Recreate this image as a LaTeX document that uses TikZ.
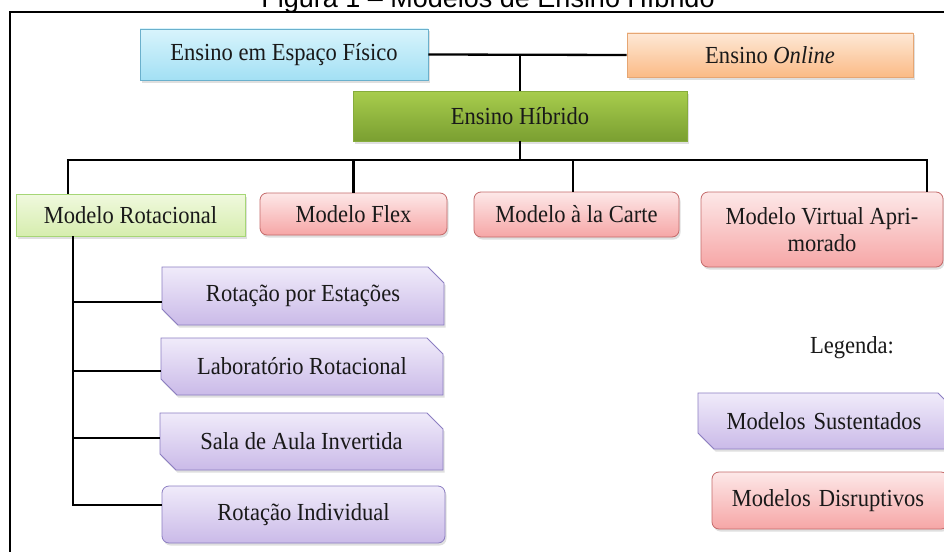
\documentclass[tikz,border=0pt]{standalone}
\usepackage{fontspec}
\setmainfont[FakeStretch=0.92]{Liberation Serif}
\newfontfamily\titlefont{Liberation Sans}
\usetikzlibrary{shapes.misc,shadows}
\definecolor{fisT}{HTML}{D8F4FC}
\definecolor{fisB}{HTML}{A3E0F4}
\definecolor{fisD}{HTML}{6AB0CC}
\definecolor{onlT}{HTML}{FEE8D6}
\definecolor{onlB}{HTML}{FBBB86}
\definecolor{onlD}{HTML}{E6A673}
\definecolor{hibT}{HTML}{A8CD4D}
\definecolor{hibB}{HTML}{7A9F31}
\definecolor{hibD}{HTML}{86AC3C}
\definecolor{rotT}{HTML}{F0F9DE}
\definecolor{rotB}{HTML}{D6EDAE}
\definecolor{rotD}{HTML}{A6D676}
\definecolor{pnkT}{HTML}{FDE8E8}
\definecolor{pnkB}{HTML}{F6A6A6}
\definecolor{pnkD}{HTML}{C46A6A}
\definecolor{purT}{HTML}{F0EBFA}
\definecolor{purB}{HTML}{CABAE8}
\definecolor{purD}{HTML}{8C7EC2}
\begin{document}
\begin{tikzpicture}[x=1pt,y=-1pt,
  box/.style={draw, line width=0.8pt, inner sep=0pt, align=center,
    font=\fontsize{24.5}{27}\selectfont, text=black!90,
    drop shadow={shadow xshift=1.5pt, shadow yshift=-2.5pt, opacity=0.25}},
  fisbox/.style={box, draw=fisD, top color=fisT, bottom color=fisB},
  onlbox/.style={box, draw=onlD, top color=onlT, bottom color=onlB},
  hibbox/.style={box, draw=hibD, top color=hibT, bottom color=hibB},
  rotbox/.style={box, draw=rotD, top color=rotT, bottom color=rotB},
  pinkbox/.style={box, draw=pnkD, top color=pnkT, bottom color=pnkB, rounded corners=7pt},
  purbox/.style={box, draw=purD, top color=purT, bottom color=purB},
  snipbox/.style={purbox, chamfered rectangle, chamfered rectangle corners={north east, south west},
    chamfered rectangle xsep=8pt, chamfered rectangle ysep=8pt},
  roundpur/.style={purbox, rounded corners=7pt},
  conn/.style={line width=2.3pt, black},
  frame/.style={line width=1.8pt, black},
  plain/.style={font=\fontsize{24.5}{27}\selectfont, text=black!90, inner sep=0pt}
]
\useasboundingbox (0,0) rectangle (944,551);
\fill[white] (0,0) rectangle (944,551);

% title and frame
\node[font=\titlefont\fontsize{27}{30}\selectfont, anchor=base, inner sep=0pt] (title) at (488,7.5) {Figura 1 – Modelos de Ensino Híbrido};
\draw[frame] (946,12) -- (10,12) -- (10,553);

% top level
\node[fisbox, minimum width=288pt, minimum height=51pt] (fis) at (284,54.5) {Ensino em Espaço Físico};
\node[onlbox, minimum width=286pt, minimum height=44pt] (onl) at (770,55) {Ensino \textit{Online}};
\node[hibbox, minimum width=334pt, minimum height=50pt] (hib) at (520,116) {Ensino Híbrido};

% models
\node[rotbox, minimum width=229pt, minimum height=42pt] (rot) at (130.5,215) {Modelo Rotacional};
\node[pinkbox, minimum width=187pt, minimum height=42pt] (flex) at (353.5,214) {Modelo Flex};
\node[pinkbox, minimum width=205pt, minimum height=45pt] (carte) at (576.5,214.5) {Modelo à la Carte};
\node[pinkbox, minimum width=242pt, minimum height=75pt] (virt) at (822,229.5) {Modelo Virtual Apri-\\morado};

% rotational sub-models
\node[snipbox, minimum width=282pt, minimum height=58pt] (est) at (303,296) {Rotação por Estações};
\node[snipbox, minimum width=282pt, minimum height=57pt] (lab) at (302,366.5) {Laboratório Rotacional};
\node[snipbox, minimum width=283pt, minimum height=57pt] (sala) at (301.5,441.5) {Sala de Aula Invertida};
\node[roundpur, minimum width=283pt, minimum height=57pt] (ind) at (303.5,514.5) {Rotação Individual};

% legend
\node[plain] (leg) at (852,348) {Legenda:};
\node[snipbox, minimum width=244pt, minimum height=56pt, text width=240pt] (sust) at (826,421) {\hspace*{-4pt}Modelos Sustentados};
\node[pinkbox, minimum width=236pt, minimum height=57pt, text width=232pt] (disr) at (830,500.5) {\hspace*{-4pt}Modelos Disruptivos};

% connectors
\coordinate (j1) at (hib.north |- fis.east);
\draw[conn] (fis.east) -- (onl.west);
\draw[conn] (j1) -- (hib.north);
\coordinate (busL) at (68,160);
\coordinate (busR) at (927,160);
\draw[conn] (hib.south) -- (hib.south |- busL);
\draw[conn] ([xshift=-1.15pt]busL) -- ([xshift=1.15pt]busR);
\draw[conn] (busL) -- (busL |- rot.north);
\draw[conn] (flex.north |- busL) -- (flex.north);
\draw[conn] ([xshift=-3.5pt]carte.north |- busL) -- ([xshift=-3.5pt]carte.north);
\draw[conn] (busR) -- (busR |- virt.north);

\coordinate (tr) at (73,0);
\coordinate (bEst) at ([yshift=-6pt]est.west);
\coordinate (bLab) at ([yshift=-4.5pt]lab.west);
\coordinate (bSala) at ([yshift=3.5pt]sala.west);
\coordinate (bInd) at ([yshift=9.5pt]ind.west);
\draw[conn] (tr |- rot.south) -- ([yshift=-1.15pt]tr |- bInd);
\draw[conn] (tr |- bEst) -- (bEst);
\draw[conn] (tr |- bLab) -- (bLab);
\draw[conn] (tr |- bSala) -- (bSala);
\draw[conn] (tr |- bInd) -- (bInd);
\end{tikzpicture}
\end{document}
